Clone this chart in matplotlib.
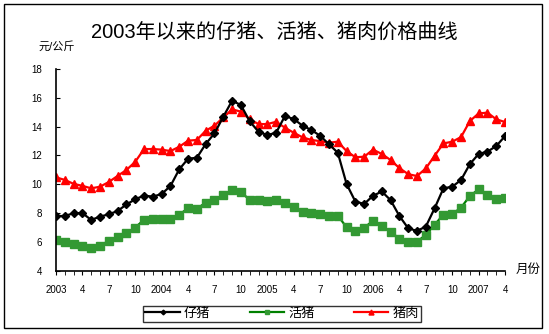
import matplotlib
matplotlib.use('Agg')
import matplotlib.pyplot as plt
from matplotlib.patches import Rectangle

plt.rcParams['font.family'] = ['Liberation Sans', 'Noto Sans CJK SC']

# 2003年1月 - 2007年4月, 元/公斤
piglet = [7.8, 7.8, 8.0, 8.0, 7.53, 7.76, 7.92, 8.15, 8.6, 8.96, 9.22,
          9.14, 9.33, 9.88, 11.04, 11.77, 11.84, 12.79, 13.53, 14.68, 15.79,
          15.49, 14.36, 13.64, 13.41, 13.57, 14.73, 14.52, 14.06, 13.76, 13.36,
          12.77, 12.19, 10.02, 8.8, 8.64, 9.2, 9.5, 8.9, 7.8, 6.95,
          6.77, 7.07, 8.34, 9.72, 9.83, 10.3, 11.4, 12.1, 12.26, 12.65, 13.34]
live_hog = [6.15, 5.98, 5.87, 5.75, 5.61, 5.75, 6.08, 6.35, 6.63, 7.0, 7.55,
            7.62, 7.62, 7.62, 7.9, 8.34, 8.3, 8.73, 8.91, 9.28, 9.6,
            9.47, 8.91, 8.91, 8.84, 8.91, 8.73, 8.45, 8.08, 7.99, 7.94,
            7.83, 7.83, 7.02, 6.79, 7.0, 7.46, 7.13, 6.72, 6.21, 6.03,
            6.03, 6.49, 7.2, 7.9, 7.94, 8.38, 9.19, 9.65, 9.28, 9.0, 9.07]
pork = [10.48, 10.3, 10.03, 9.89, 9.72, 9.83, 10.16, 10.58, 10.99, 11.56, 12.44,
        12.44, 12.4, 12.3, 12.6, 13.02, 13.07, 13.71, 14.06, 14.63, 15.19,
        15.03, 14.5, 14.17, 14.17, 14.33, 13.92, 13.57, 13.25, 13.07, 12.99,
        12.88, 12.95, 12.3, 11.87, 11.91, 12.4, 12.1, 11.68, 11.12, 10.7,
        10.57, 11.1, 11.98, 12.83, 12.95, 13.27, 14.38, 14.91, 14.96, 14.5, 14.31]

tick_pos = [0, 3, 6, 9, 12, 15, 18, 21, 24, 27, 30, 33, 36, 39, 42, 45, 48, 51]
tick_labels = ['2003', '4', '7', '10', '2004', '4', '7', '10', '2005', '4',
               '7', '10', '2006', '4', '7', '10', '2007', '4']

months = list(range(len(piglet)))

fig = plt.figure(figsize=(5.49, 3.34), dpi=100)
ax = fig.add_axes([0.102, 0.189, 0.818, 0.605])

ax.plot(months, piglet, color='black', lw=1.6, marker='D', ms=4,
        label='仔猪', zorder=3)
ax.plot(months, live_hog, color='#008000', lw=1.6, marker='s', ms=5.5,
        mfc='#339933', mec='#339933', label='活猪', zorder=2)
ax.plot(months, pork, color='red', lw=1.6, marker='^', ms=6,
        label='猪肉', zorder=2)

ax.set_xlim(0, 51)
ax.set_ylim(4, 18)
ax.set_yticks(range(4, 19, 2))
ax.set_xticks(months, minor=True)
ax.set_xticks(tick_pos)
ax.set_xticklabels(tick_labels)
ax.tick_params(axis='y', direction='in', length=3, labelsize=7, pad=10)
ax.tick_params(axis='x', which='both', direction='out', length=3,
               labelsize=7, pad=7)
for s in ['top', 'right']:
    ax.spines[s].set_visible(False)
for s in ['left', 'bottom']:
    ax.spines[s].set_linewidth(1.2)

fig.text(0.5, 0.905, '2003年以来的仔猪、活猪、猪肉价格曲线', ha='center',
         va='center', fontsize=14.5)
fig.text(0.071, 0.86, '元/公斤', ha='left', va='center', fontsize=8)
fig.text(0.94, 0.193, '月份', ha='left', va='center', fontsize=9)

leg = fig.legend(loc='center', bbox_to_anchor=(0.514, 0.06), ncol=3,
                 fontsize=9.5, frameon=True, fancybox=False, edgecolor='black',
                 handlelength=2.6, columnspacing=3.0, borderpad=0.15,
                 handletextpad=0.3, markerscale=0.6, borderaxespad=0)
leg.get_frame().set_linewidth(1)

fig.patches.append(Rectangle((0.008, 0.018), 0.98, 0.97, transform=fig.transFigure,
                             fill=False, edgecolor='black', lw=1))

fig.savefig('out.png', dpi=100)
